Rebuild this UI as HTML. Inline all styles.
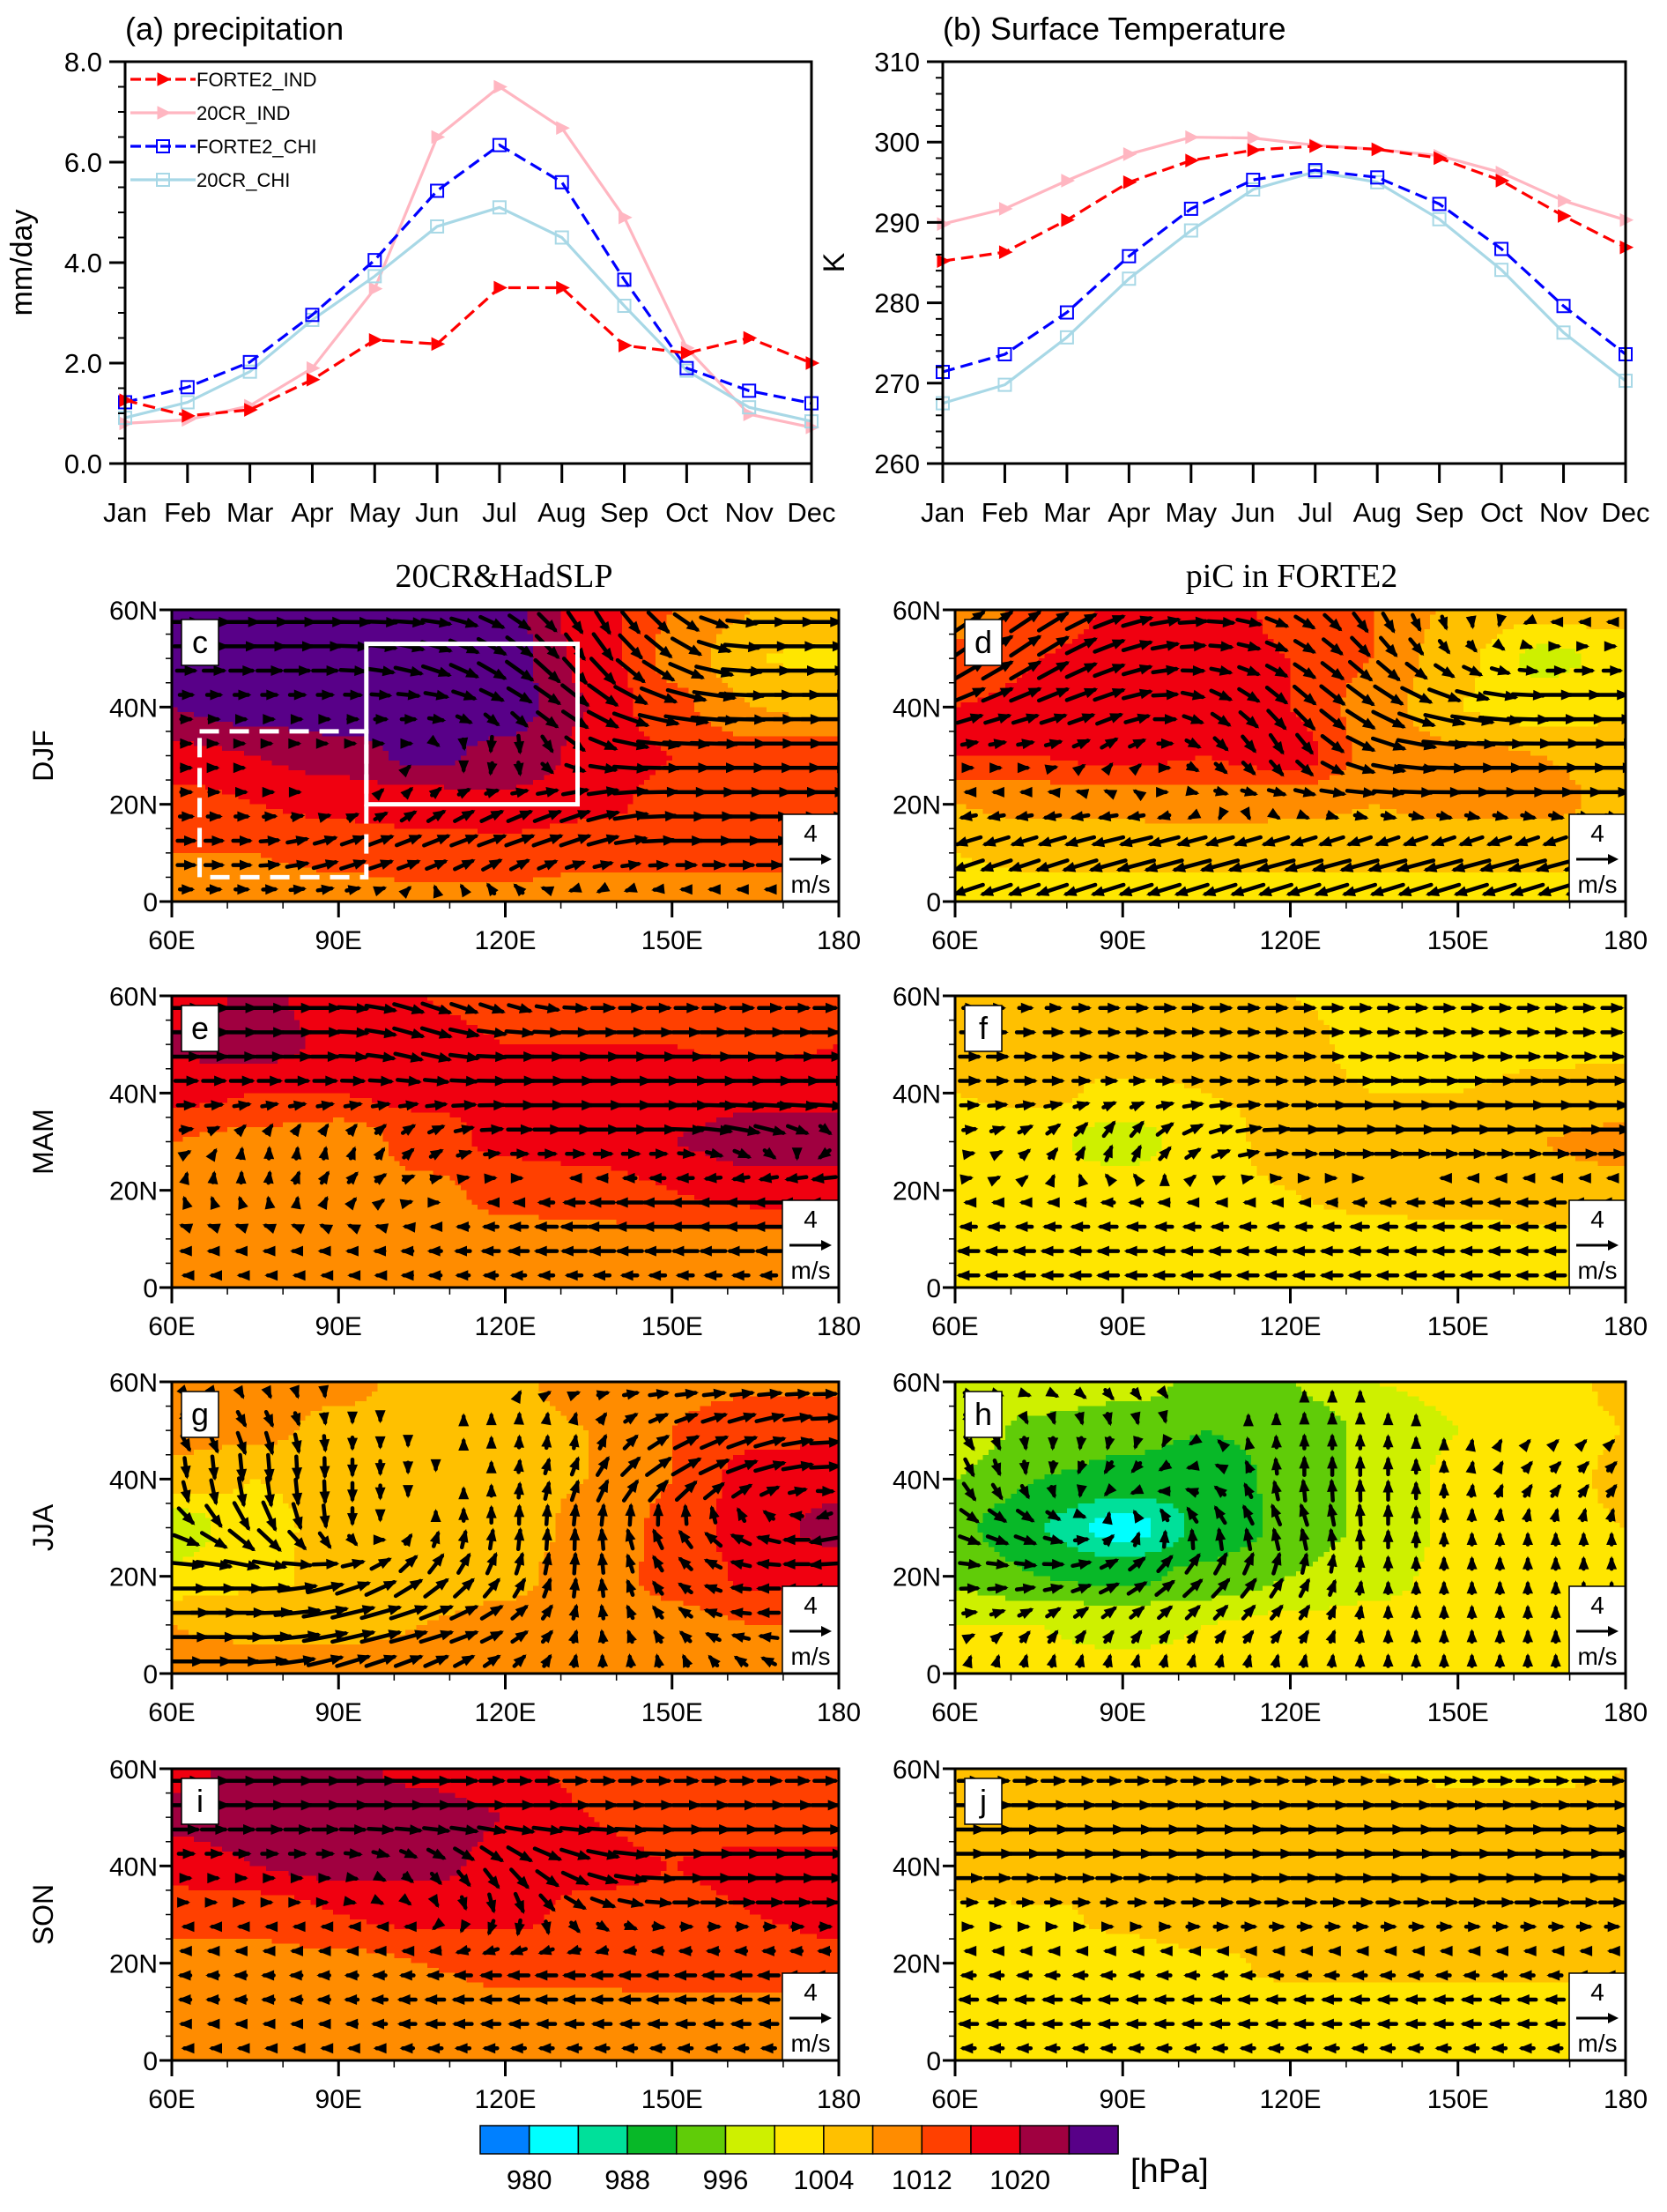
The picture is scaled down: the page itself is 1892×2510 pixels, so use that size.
<!DOCTYPE html>
<html><head><meta charset="utf-8">
<style>
html,body{margin:0;padding:0;background:#fff;}
svg{display:block;}
text{font-family:"Liberation Sans Narrow","Liberation Sans",sans-serif;fill:#000;}
.serif{font-family:"Liberation Serif",serif;}
.wide{font-family:"Liberation Sans",sans-serif;}
</style></head>
<body>
<svg id="fig" xmlns="http://www.w3.org/2000/svg" width="1892" height="2510" viewBox="0 0 1892 2510">
<rect x="0" y="0" width="1892" height="2510" fill="#fff"/>
<g id="lines"></g>
<g id="maps"></g>
<g id="cbar"></g>
</svg>
<script>
// ---------- line chart data ----------
const months=["Jan","Feb","Mar","Apr","May","Jun","Jul","Aug","Sep","Oct","Nov","Dec"];
const precipTicks=[0,2,4,6,8];
const precipForteInd=[1.26,0.95,1.07,1.67,2.46,2.38,3.5,3.5,2.35,2.2,2.5,2.0];
const precip20crInd=[0.8,0.87,1.15,1.9,3.48,6.5,7.5,6.68,4.9,2.3,0.98,0.72];
const precipForteChi=[1.22,1.52,2.02,2.96,4.05,5.43,6.34,5.6,3.66,1.9,1.45,1.2];
const precip20crChi=[0.91,1.22,1.83,2.86,3.73,4.72,5.1,4.5,3.14,1.85,1.12,0.84];
const tempTicks=[260,270,280,290,300,310];
const temp20crInd=[289.8,291.7,295.2,298.5,300.6,300.5,299.6,299.1,298.3,296.2,292.7,290.3];
const tempForteInd=[285.2,286.3,290.3,295.0,297.7,299.0,299.5,299.1,298.0,295.2,290.8,286.9];
const tempForteChi=[271.4,273.6,278.8,285.8,291.7,295.3,296.5,295.6,292.3,286.7,279.6,273.6];
const temp20crChi=[267.5,269.8,275.7,283.0,289.0,294.1,296.3,295.0,290.4,284.1,276.3,270.3];

// ---------- map data (rows: 60N,50N,40N,30N,20N,10N,0; cols: 60E..180 step 15) ----------
const lats=[60,50,40,30,20,10,0];
const lons=[60,75,90,105,120,135,150,165,180];
const slpC=[[1026,1027,1027,1027,1025,1018,1012,1008,1007],[1026,1027,1027,1027,1026,1019,1011,1004,1003],[1024,1026,1027,1028,1026,1020,1013,1008,1007],[1019,1020,1022,1025,1023,1019,1016,1014,1014],[1014,1016,1017,1018,1019,1017,1015,1015,1014],[1012,1012,1013,1014,1014,1013,1013,1013,1013],[1010,1010,1010,1011,1011,1010,1010,1010,1010]];
const uC=[[3,4,4,3,2,1,2,3,3],[2,3,3,3,3,2,3,4,4],[1,1,1,2,2,3,4,5,5],[1,0,0,0,-1,2,5,5,5],[1,1,0,1,2,3,4,4,4],[2,2,3,3,3,3,3,4,4],[1,1,1,-1,-2,-2,-2,-2,-2]];
const vC=[[0,0,0,0,-1,-2,-2,0,0],[0,0,0,-1,-2,-3,-2,0,0],[0,0,0,0,-1,-2,-1,0,0],[0,0,0,0,-2,-1,0,0,0],[0,0,0,1,1,1,0,0,0],[0,0,1,1,1,1,0,0,0],[0,0,0,0,1,-1,0,0,0]];
const slpD=[[1010,1013,1017,1018,1015,1012,1007,1005,1006],[1013,1016,1018,1018,1016,1012,1005,999,1001],[1016,1017,1018,1018,1016,1010,1004,1002,1003],[1016,1016,1017,1016,1018,1011,1009,1008,1007],[1008,1009,1009,1010,1009,1008,1009,1009,1007],[1004,1005,1005,1005,1005,1005,1005,1005,1004],[1002,1002,1002,1002,1002,1002,1002,1002,1002]];
const uD=[[3,3,3,3,2,1,0,-1,-1],[3,3,3,2,2,2,1,1,1],[3,3,3,2,2,3,4,4,4],[1,1,1,1,1,3,5,5,5],[-1,-1,-1,1,2,3,3,3,3],[-3,-3,-4,-4,-4,-4,-4,-4,-4],[-3,-3,-3,-3,-3,-3,-3,-3,-3]];
const vD=[[2,2,1,0,-1,-2,-1,0,0],[2,2,1,0,-1,-2,-1,0,0],[1,1,1,-1,-2,-2,-1,0,0],[0,0,1,-1,-2,-1,0,0,0],[0,0,0,0,0,0,0,0,0],[-1,-1,-1,-1,-1,-1,-1,-1,-1],[-1,-1,-1,-1,-1,-1,-1,-1,-1]];
const slpE=[[1017,1021,1018,1016,1015,1016,1014,1013,1014],[1021,1022,1019,1017,1016,1016,1016,1015,1016],[1017,1016,1016,1017,1017,1017,1018,1019,1019],[1012,1011,1009,1014,1017,1018,1020,1022,1022],[1010,1010,1009,1011,1013,1014,1016,1018,1018],[1010,1010,1010,1010,1011,1011,1011,1011,1011],[1010,1010,1010,1010,1010,1010,1010,1010,1010]];
const uE=[[3,3,3,3,2,2,2,2,2],[3,3,3,3,3,3,3,3,3],[2,2,2,2,3,4,5,5,5],[1,0,0,1,2,3,3,3,-1],[0,0,1,1,0,-2,-3,-3,-3],[-1,-1,-1,-1,-2,-3,-3,-3,-3],[0,0,0,-1,-1,-1,-1,-1,-1]];
const vE=[[0,0,0,-1,-1,0,0,0,0],[0,0,0,-1,0,0,0,0,0],[0,0,0,0,0,0,0,0,0],[0,1,1,1,0,0,0,-1,-1],[1,1,1,0,0,0,0,0,0],[0,0,0,0,0,0,0,0,0],[0,0,0,0,0,0,0,0,0]];
const slpF=[[1005,1006,1006,1005,1004,1003,1003,1004,1004],[1005,1007,1007,1006,1005,1003,1002,1003,1003],[1004,1005,1003,1004,1005,1004,1004,1005,1006],[1002,1001,998,1002,1006,1007,1008,1008,1009],[1002,1002,1002,1003,1004,1005,1006,1007,1007],[1002,1002,1002,1002,1003,1003,1003,1003,1003],[1002,1002,1002,1002,1002,1002,1002,1002,1002]];
const uF=[[1,1,2,2,2,2,2,2,2],[2,2,2,2,2,2,2,2,2],[2,2,1,2,2,3,3,3,3],[1,1,1,2,3,4,4,4,4],[0,0,-1,0,0,-1,-2,-2,-2],[-2,-2,-2,-2,-2,-2,-2,-2,-2],[-2,-2,-2,-2,-2,-2,-2,-2,-2]];
const vF=[[0,0,0,0,0,0,0,0,0],[0,0,0,0,0,0,0,0,0],[0,0,0,0,0,0,0,0,0],[0,1,2,1,0,0,0,0,0],[0,0,0,0,0,0,0,0,0],[0,0,0,0,0,0,0,0,0],[0,0,0,0,0,0,0,0,0]];
const slpG=[[1011,1011,1009,1007,1007,1010,1011,1011,1011],[1010,1009,1007,1006,1006,1008,1012,1015,1015],[1006,1004,1005,1006,1007,1008,1012,1018,1019],[997,1003,1005,1006,1006,1009,1013,1019,1021],[1001,1003,1005,1006,1007,1010,1013,1017,1018],[1008,1007,1007,1008,1009,1010,1011,1012,1012],[1010,1010,1010,1010,1010,1010,1010,1010,1010]];
const uG=[[0,0,0,0,0,1,2,2,2],[1,1,0,0,0,0,2,3,3],[0,0,0,0,0,1,3,3,3],[2,2,0,0,0,0,-1,-2,-3],[4,4,3,2,1,0,-1,-2,-3],[5,5,5,4,2,0,-1,-2,-2],[3,3,3,2,1,0,0,-1,-1]];
const vG=[[0,0,0,0,0,0,0,0,0],[-1,-2,-1,0,1,1,1,1,0],[-2,-3,-2,-1,1,2,2,1,0],[-1,-3,-2,1,2,2,2,1,-1],[0,0,1,2,2,2,1,0,0],[0,0,1,1,1,1,1,0,0],[0,0,1,1,1,1,1,1,0]];
const slpH=[[999,999,998,995,996,1000,1001,1002,1005],[998,995,993,992,993,997,1000,1002,1004],[996,992,991,990,993,997,1001,1002,1005],[993,988,982,989,993,997,1001,1002,1004],[995,992,991,993,996,999,1001,1002,1002],[1000,1000,999,1000,1001,1001,1001,1001,1001],[1001,1001,1001,1001,1001,1001,1001,1001,1001]];
const uH=[[1,1,1,0,0,0,0,0,0],[1,0,0,0,0,0,0,0,0],[1,0,-1,-1,0,0,0,1,1],[2,2,0,-1,-1,0,0,0,0],[2,2,2,2,1,0,0,0,0],[1,1,1,1,1,0,0,0,0],[0,0,0,0,0,0,0,0,0]];
const vH=[[0,0,-1,0,0,0,0,0,0],[-1,-1,-1,0,1,1,0,0,0],[-2,-1,-1,0,2,2,1,1,1],[-1,-1,1,2,2,2,1,1,1],[0,0,1,2,2,1,1,1,1],[0,1,1,1,1,1,1,1,1],[1,1,1,1,1,1,1,1,1]];
const slpI=[[1019,1021,1021,1019,1017,1015,1013,1012,1012],[1021,1022,1023,1022,1020,1016,1015,1014,1014],[1018,1020,1021,1021,1019,1017,1016,1017,1017],[1013,1013,1016,1017,1017,1015,1015,1016,1017],[1011,1011,1011,1012,1013,1013,1014,1014,1015],[1010,1010,1010,1010,1011,1011,1011,1011,1011],[1010,1010,1010,1010,1010,1010,1010,1010,1010]];
const uI=[[3,3,3,3,2,2,2,2,2],[3,3,3,3,3,3,3,3,3],[1,1,1,1,2,3,4,4,4],[0,0,0,0,0,2,2,2,2],[-1,-1,-1,-1,-2,-2,-2,-2,-2],[-1,-1,-1,-2,-2,-2,-2,-2,-2],[0,0,0,-1,-1,-1,-1,-1,-1]];
const vI=[[0,0,0,0,0,0,0,0,0],[0,0,0,0,0,0,0,0,0],[0,0,0,-1,-2,-1,0,0,0],[0,0,0,0,-2,-1,0,0,0],[0,0,0,0,0,0,0,0,0],[0,0,0,0,0,0,0,0,0],[0,0,0,0,0,0,0,0,0]];
const slpJ=[[1006,1006,1005,1004.5,1005,1004,1003,1003,1004],[1007,1008,1007,1007,1007,1006,1006,1006,1005],[1006,1007,1006,1007,1007,1007,1006,1005,1005],[1003.5,1003.5,1004.5,1006,1007,1006,1005.5,1005.5,1005.5],[1003,1003,1003,1003.5,1004.5,1004.5,1004.5,1004.5,1004.5],[1003,1003,1003,1003,1003,1003,1003,1003,1003],[1002,1002,1002,1002,1002,1002,1002,1002,1002]];
const uJ=[[2,2,2,2,2,2,2,2,2],[3,3,3,3,3,3,3,3,3],[3,3,3,3,3,3,4,4,4],[1,1,1,2,2,2,2,2,2],[-1,-1,-1,-1,-1,-1,-1,-1,-1],[-2,-2,-2,-2,-2,-2,-2,-2,-2],[-1,-1,-1,-1,-1,-1,-1,-1,-1]];
const vJ=[[0,0,0,0,0,0,0,0,0],[0,0,0,0,0,0,0,0,0],[0,0,0,0,0,0,0,0,0],[0,0,0,0,0,0,0,0,0],[0,0,0,0,0,0,0,0,0],[0,0,0,0,0,0,0,0,0],[0,0,0,0,0,0,0,0,0]];
const cbarLevels=[980,988,996,1004,1012,1020];
const cbarColors=["#0080ff","#00ffff","#00e09a","#08b828","#60cc08","#cef000","#ffe600","#ffc000","#ff8c00","#ff4000","#f00010","#a00040","#580088"];

const NS="http://www.w3.org/2000/svg";
function mk(tag,attrs,parent){const e=document.createElementNS(NS,tag);for(const k in attrs)e.setAttribute(k,attrs[k]);if(parent)parent.appendChild(e);return e;}
function txt(s,attrs,parent){const e=mk("text",attrs,parent);e.textContent=s;return e;}

// ---------- line charts ----------
const linesG=document.getElementById("lines");
function lineChart(cfg){
  const g=mk("g",{},linesG);
  
  
  const {x0,x1,y0,y1,ymin,ymax}=cfg;
  const X=i=>x0+(x1-x0)*i/11;
  const Y=v=>y1-(y1-y0)*(v-ymin)/(ymax-ymin);
  cfg.series.forEach(s=>{
    const sg=mk("g",{},g);
    
    
    const pts=s.vals.map((v,i)=>X(i).toFixed(1)+","+Y(v).toFixed(1)).join(" ");
    mk("polyline",{points:pts,fill:"none",stroke:s.color,"stroke-width":3.2,"stroke-dasharray":s.dash?"14,7":"none"},sg);
    s.vals.forEach((v,i)=>marker(sg,X(i),Y(v),s));
  });
  const fr=mk("rect",{x:x0,y:y0,width:x1-x0,height:y1-y0,fill:"none",stroke:"#000","stroke-width":3},g);
  
  
  cfg.ticks.forEach(t=>{
    mk("line",{x1:x0-18,x2:x0,y1:Y(t),y2:Y(t),stroke:"#000","stroke-width":3},g);
    const l=txt(cfg.fmt(t),{x:x0-26,y:Y(t)+11,"font-size":31,"text-anchor":"end"},g);
    
    
  });
  for(let v=ymin;v<=ymax+1e-6;v+=cfg.minor){mk("line",{x1:x0-8,x2:x0,y1:Y(v),y2:Y(v),stroke:"#000","stroke-width":2},g);}
  months.forEach((m,i)=>{
    mk("line",{x1:X(i),x2:X(i),y1:y1,y2:y1+22,stroke:"#000","stroke-width":3},g);
    const l=txt(m,{x:X(i),y:y1+66,"font-size":31,"text-anchor":"middle"},g);
    
    
  });
  const t=txt(cfg.title,{x:x0,y:45,"font-size":36},g);
  
  
  const yl=txt(cfg.ylabel,{x:0,y:0,"font-size":34,"text-anchor":"middle",class:"wide",transform:`translate(${cfg.ylx},${(y0+y1)/2}) rotate(-90)`},g);
  
  
  return {X,Y,g};
}
function marker(g,x,y,s){
  if(s.mk==="tri"){mk("polygon",{points:`${x-6},${y-7} ${x+8},${y} ${x-6},${y+7}`,fill:s.color,stroke:s.color,"stroke-width":1},g);}
  else{mk("rect",{x:x-7,y:y-7,width:14,height:14,fill:"none",stroke:s.color,"stroke-width":2},g);}
}
const series=(a,b,c,d)=>[
 {name:"series-20cr-ind",vals:b,color:"#ffb6c1",dash:false,mk:"tri"},
 {name:"series-20cr-chi",vals:d,color:"#a8d8e6",dash:false,mk:"sq"},
 {name:"series-forte2-chi",vals:c,color:"#0000ff",dash:true,mk:"sq"},
 {name:"series-forte2-ind",vals:a,color:"#ff0000",dash:true,mk:"tri"}];
const chartA=lineChart({name:"precipitation-chart",x0:142,x1:921,y0:70,y1:526,ymin:0,ymax:8,ticks:precipTicks,minor:0.5,fmt:v=>v.toFixed(1),title:"(a) precipitation",ylabel:"mm/day",ylx:36,
 series:series(precipForteInd,precip20crInd,precipForteChi,precip20crChi)});
lineChart({name:"temperature-chart",x0:1070,x1:1845,y0:70,y1:526,ymin:260,ymax:310,ticks:tempTicks,minor:2,fmt:v=>String(v),title:"(b) Surface Temperature",ylabel:"K",ylx:958,
 series:series(tempForteInd,temp20crInd,tempForteChi,temp20crChi)});
(function(){
  const lg=mk("g",{},chartA.g);
  
  
  const items=[["FORTE2_IND","#ff0000",true,"tri"],["20CR_IND","#ffb6c1",false,"tri"],["FORTE2_CHI","#0000ff",true,"sq"],["20CR_CHI","#a8d8e6",false,"sq"]];
  items.forEach((it,i)=>{
    const y=90+i*38;
    const e=mk("g",{},lg);
    
    
    mk("line",{x1:148,x2:222,y1:y,y2:y,stroke:it[1],"stroke-width":3.2,"stroke-dasharray":it[2]?"12,5":"none"},e);
    marker(e,185,y,{color:it[1],mk:it[3]});
    txt(it[0],{x:223,y:y+8,"font-size":22},e);
  });
})();

// ---------- maps ----------
const mapsG=document.getElementById("maps");
const rowsY=[692,1130,1568,2007], MH=331;
const colsX=[[195,952],[1084,1845]];
const panels=[
 ["c",slpC,uC,vC,0,0],["d",slpD,uD,vD,0,1],
 ["e",slpE,uE,vE,1,0],["f",slpF,uF,vF,1,1],
 ["g",slpG,uG,vG,2,0],["h",slpH,uH,vH,2,1],
 ["i",slpI,uI,vI,3,0],["j",slpJ,uJ,vJ,3,1]];
function sm(t){return t*t*(3-2*t);}
function interp(grid,lat,lon){
  let r=(60-lat)/10, c=(lon-60)/15;
  r=Math.max(0,Math.min(6,r)); c=Math.max(0,Math.min(8,c));
  const r0=Math.min(5,Math.floor(r)), c0=Math.min(7,Math.floor(c));
  const fr=sm(r-r0), fc=sm(c-c0);
  return grid[r0][c0]*(1-fr)*(1-fc)+grid[r0][c0+1]*(1-fr)*fc+grid[r0+1][c0]*fr*(1-fc)+grid[r0+1][c0+1]*fr*fc;
}
function interpL(grid,lat,lon){
  let r=(60-lat)/10, c=(lon-60)/15;
  r=Math.max(0,Math.min(6,r)); c=Math.max(0,Math.min(8,c));
  const r0=Math.min(5,Math.floor(r)), c0=Math.min(7,Math.floor(c));
  const fr=r-r0, fc=c-c0;
  return grid[r0][c0]*(1-fr)*(1-fc)+grid[r0][c0+1]*(1-fr)*fc+grid[r0+1][c0]*fr*(1-fc)+grid[r0+1][c0+1]*fr*fc;
}
function colorFor(p){
  let idx=Math.floor((p-980)/4)+1;
  idx=Math.max(0,Math.min(12,idx));
  return cbarColors[idx];
}
const defs=mk("defs",{},mapsG);
panels.forEach(([lab,slp,u,v,row,col])=>{
  const [x0,x1]=colsX[col]; const y0=rowsY[row]; const W=x1-x0;
  const X=lon=>x0+(lon-60)/120*W;
  const Y=lat=>y0+(60-lat)/60*MH;
  const g=mk("g",{},mapsG);
  
  
  const cp=mk("clipPath",{id:"clip"+lab},defs);
  mk("rect",{x:x0,y:y0,width:W,height:MH},cp);
  const fg=mk("g",{"clip-path":`url(#clip${lab})`,"shape-rendering":"crispEdges"},g);
  
  
  const d=1;
  for(let lat=60;lat>0;lat-=d){
    // merge runs of same colour along a row
    let runStart=60, runCol=null;
    for(let lon=60;lon<=180;lon+=d){
      const c=lon<180?colorFor(interp(slp,lat-d/2,lon+d/2)):null;
      if(c!==runCol){
        if(runCol) mk("rect",{x:X(runStart).toFixed(1),y:Y(lat).toFixed(1),width:(X(lon)-X(runStart)+0.8).toFixed(1),height:(MH/60*d+0.8).toFixed(1),fill:runCol},fg);
        runStart=lon; runCol=c;
      }
    }
  }
  const ag=mk("g",{"clip-path":`url(#clip${lab})`},g);
  
  
  const sc=10.5;
  for(let lat=57.5;lat>0;lat-=5){
    for(let lon=62.5;lon<180;lon+=5){
      const uu=interpL(u,lat,lon), vv=interpL(v,lat,lon);
      const m=Math.hypot(uu,vv); if(m<0.25) continue;
      const cx=X(lon), cy=Y(lat);
      const dx=uu*sc, dy=-vv*sc;
      const ax=cx-dx/2, ay=cy-dy/2, bx=cx+dx/2, by=cy+dy/2;
      mk("line",{x1:ax.toFixed(1),y1:ay.toFixed(1),x2:bx.toFixed(1),y2:by.toFixed(1),stroke:"#000","stroke-width":4.5,"stroke-linecap":"round"},ag);
      const ux=dx/(m*sc), uy=dy/(m*sc), h=11;
      mk("polygon",{points:`${(bx+ux*4).toFixed(1)},${(by+uy*4).toFixed(1)} ${(bx-ux*h-uy*6).toFixed(1)},${(by-uy*h+ux*6).toFixed(1)} ${(bx-ux*h+uy*6).toFixed(1)},${(by-uy*h-ux*6).toFixed(1)}`,fill:"#000"},ag);
    }
  }
  if(lab==="c"){
    const b1=mk("rect",{x:X(95),y:Y(53),width:X(133)-X(95),height:Y(20)-Y(53),fill:"none",stroke:"#fff","stroke-width":5},g);
    
    
    const b2=mk("rect",{x:X(65),y:Y(35),width:X(95)-X(65),height:Y(5)-Y(35),fill:"none",stroke:"#fff","stroke-width":5,"stroke-dasharray":"22,12"},g);
    
    
  }
  const lb=mk("g",{},g);
  
  
  mk("rect",{x:x0+11,y:y0+11,width:42,height:52,fill:"#fff",stroke:"#000","stroke-width":1.5},lb);
  txt(lab,{x:x0+32,y:y0+49,"font-size":36,"text-anchor":"middle",class:"wide"},lb);
  const rv=mk("g",{},g);
  
  
  mk("rect",{x:x1-64,y:y0+MH-99,width:64,height:99,fill:"#fff",stroke:"#000","stroke-width":1.5},rv);
  txt("4",{x:x1-32,y:y0+MH-68,"font-size":28,"text-anchor":"middle"},rv);
  mk("line",{x1:x1-56,x2:x1-16,y1:y0+MH-48,y2:y0+MH-48,stroke:"#000","stroke-width":3},rv);
  mk("polygon",{points:`${x1-8},${y0+MH-48} ${x1-20},${y0+MH-54} ${x1-20},${y0+MH-42}`,fill:"#000"},rv);
  txt("m/s",{x:x1-32,y:y0+MH-10,"font-size":28,"text-anchor":"middle"},rv);
  mk("rect",{x:x0,y:y0,width:W,height:MH,fill:"none",stroke:"#000","stroke-width":3},g);
  for(let lat=0;lat<=60;lat+=5){
    const major=lat%20===0;
    mk("line",{x1:x0-(major?14:7),x2:x0,y1:Y(lat),y2:Y(lat),stroke:"#000","stroke-width":major?3:1.5},g);
    if(major){
      const l=txt(lat===0?"0":lat+"N",{x:x0-16,y:Y(lat)+11,"font-size":30,"text-anchor":"end"},g);
      
      
    }
  }
  for(let lon=60;lon<=180;lon+=10){
    const major=lon%30===0;
    mk("line",{x1:X(lon),x2:X(lon),y1:y0+MH,y2:y0+MH+(major?18:8),stroke:"#000","stroke-width":major?3:1.5},g);
    if(major){
      const l=txt(lon===180?"180":lon+"E",{x:X(lon),y:y0+MH+54,"font-size":30,"text-anchor":"middle"},g);
      
      
    }
  }
});
["DJF","MAM","JJA","SON"].forEach((s,i)=>{
  const l=txt(s,{x:0,y:0,"font-size":32,"text-anchor":"middle",class:"wide",transform:`translate(60,${rowsY[i]+MH/2}) rotate(-90)`},mapsG);
  
  
});
const t1=txt("20CR&HadSLP",{x:572,y:666,"font-size":38,"text-anchor":"middle",class:"serif"},mapsG);


const t2=txt("piC in FORTE2",{x:1466,y:666,"font-size":38,"text-anchor":"middle",class:"serif"},mapsG);



(function(){
  const g=document.getElementById("cbar");
  
  
  const cx0=545, bw=55.7, cy=2412, ch=32;
  cbarColors.forEach((c,i)=>{
    const r=mk("rect",{x:cx0+i*bw,y:cy,width:bw,height:ch,fill:c,stroke:"#000","stroke-width":1.5},g);
    
    
  });
  cbarLevels.forEach(lv=>{
    const i=(lv-980)/4+1;
    txt(String(lv),{x:cx0+i*bw,y:cy+ch+40,"font-size":31,"text-anchor":"middle"},g);
  });
  const u=txt("[hPa]",{x:1283,y:2476,"font-size":38},g);
  
  
})();
</script>
</body></html>
